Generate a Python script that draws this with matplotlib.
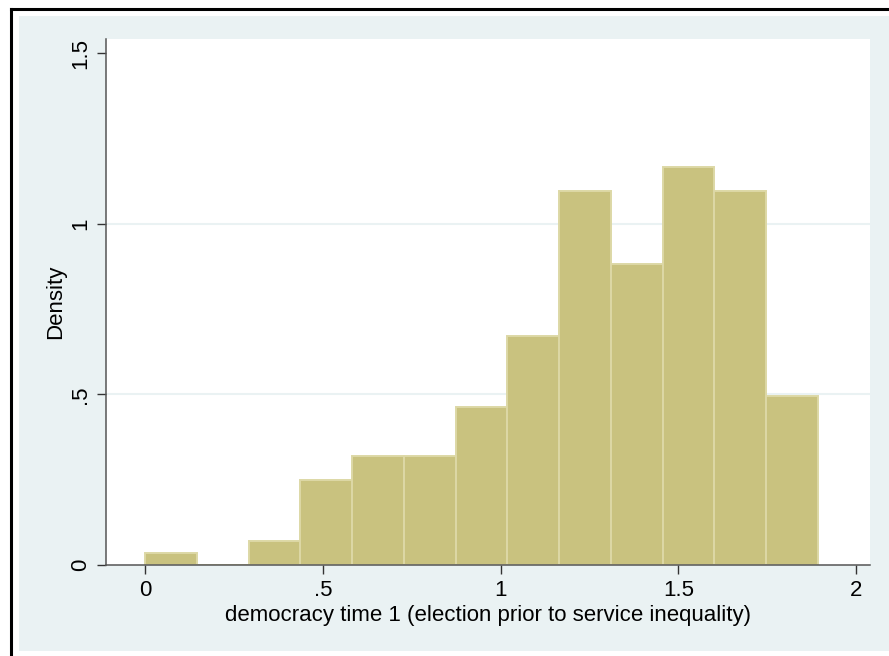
import matplotlib
matplotlib.use("Agg")
import matplotlib.pyplot as plt
from matplotlib.patches import Rectangle
from matplotlib.lines import Line2D

plt.rcParams["font.family"] = ["Liberation Sans", "DejaVu Sans"]

# histogram of democracy time 1: 13 bins starting at 0
bin_start = 0.0
bin_width = 0.1456
density = [0.036, 0.0, 0.071, 0.249, 0.320, 0.320, 0.462, 0.673,
           1.097, 0.884, 1.168, 1.097, 0.495]
xticks = [0, 0.5, 1, 1.5, 2]
xticklabels = ["0", ".5", "1", "1.5", "2"]
yticks = [0, 0.5, 1, 1.5]
yticklabels = ["0", ".5", "1", "1.5"]

W, H = 889, 656
fig = plt.figure(figsize=(W / 100, H / 100), dpi=100)
fig.patch.set_facecolor("white")

# outer light background and black frame lines
fig.add_artist(Rectangle((19 / W, 5 / H), 1 - 19 / W, (640 - 5) / H,
                         transform=fig.transFigure, facecolor="#EAF2F3",
                         edgecolor="none", zorder=0))
fig.add_artist(Line2D([11 / W, 1], [647 / H, 647 / H], transform=fig.transFigure,
                      color="black", lw=2.2))
fig.add_artist(Line2D([11 / W, 11 / W], [0, 647 / H], transform=fig.transFigure,
                      color="black", lw=2.2))

ax = fig.add_axes([106 / W, (H - 565) / H, (870 - 106) / W, (565 - 39) / H])
ax.set_facecolor("white")

lefts = [bin_start + i * bin_width for i in range(len(density))]
ax.bar(lefts, density, width=bin_width, align="edge", color="#C9C27F",
       edgecolor="#DDD8A6", linewidth=1.4, zorder=3)

ax.set_xlim(-0.1097, 2.039)
ax.set_ylim(0, 1.5425)

ax.set_xticks(xticks)
ax.set_xticklabels(xticklabels)
ax.set_yticks(yticks)
ax.set_yticklabels(yticklabels, rotation=90, va="center")

for y in [0.5, 1.0]:
    ax.axhline(y, color="#EAF2F3", lw=1.5, zorder=1)

for side in ["top", "right"]:
    ax.spines[side].set_visible(False)
for side in ["left", "bottom"]:
    ax.spines[side].set_color("#555555")
    ax.spines[side].set_linewidth(1.1)
    ax.spines[side].set_zorder(4)

ax.tick_params(axis="both", length=6.5, width=1.0, color="#333333",
               labelsize=16, labelcolor="black", pad=4)

ax.set_xlabel("democracy time 1 (election prior to service inequality)",
              fontsize=16, labelpad=3)
ax.set_ylabel("Density", fontsize=16, labelpad=3)

fig.savefig("out.png", dpi=100)
